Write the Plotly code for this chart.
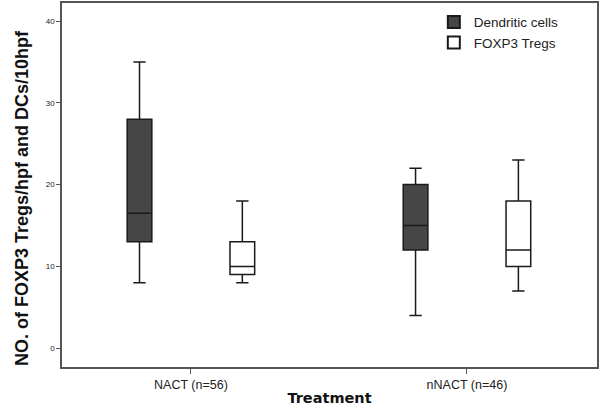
import plotly.graph_objects as go

categories = ["NACT (n=56)", "nNACT (n=46)"]
dc_low = [8, 4]
dc_q1 = [13, 12]
dc_med = [16.5, 15]
dc_q3 = [28, 20]
dc_high = [35, 22]

tr_low = [8, 7]
tr_q1 = [9, 10]
tr_med = [10, 12]
tr_q3 = [13, 18]
tr_high = [18, 23]

y_ticks = [0, 10, 20, 30, 40]
y_title = "NO. of FOXP3 Tregs/hpf and DCs/10hpf"
x_title = "Treatment"

font_main = "Liberation Sans Narrow, Arial Narrow, Liberation Sans, Arial, sans-serif"

fig = go.Figure()
fig.add_trace(go.Box(
    name="Dendritic cells", x=categories,
    q1=dc_q1, median=dc_med, q3=dc_q3, lowerfence=dc_low, upperfence=dc_high,
    fillcolor="#464646", line=dict(color="#1a1a1a", width=1.5),
    whiskerwidth=0.5, boxpoints=False, hoverinfo="skip",
))
fig.add_trace(go.Box(
    name="FOXP3 Tregs", x=categories,
    q1=tr_q1, median=tr_med, q3=tr_q3, lowerfence=tr_low, upperfence=tr_high,
    fillcolor="white", line=dict(color="#1a1a1a", width=1.5),
    whiskerwidth=0.5, boxpoints=False, hoverinfo="skip",
))

fig.update_layout(
    width=600, height=412,
    margin=dict(l=62, r=3, t=3, b=45, autoexpand=False),
    paper_bgcolor="white", plot_bgcolor="white",
    boxmode="group", boxgap=0.255, boxgroupgap=0.76,
    showlegend=True,
    legend=dict(x=0.695, y=0.99, xanchor="left", yanchor="top",
                font=dict(family="Liberation Sans, Arial, sans-serif", size=13.5, color="#222"),
                bgcolor="rgba(0,0,0,0)", tracegroupgap=0, itemsizing="constant",
                itemwidth=30),
    font=dict(family="Liberation Sans, Arial, sans-serif", color="#222"),
    annotations=[dict(
        text="<b>" + y_title + "</b>", textangle=-90,
        xref="paper", yref="paper", x=-0.0748, y=0.464,
        xanchor="center", yanchor="middle", showarrow=False,
        font=dict(family=font_main, size=18, color="#111"),
    )],
)
fig.update_xaxes(
    automargin=False,
    range=[-0.467, 1.471], showline=True, linecolor="#555", linewidth=1.5, mirror=True,
    ticks="outside", ticklen=5, tickcolor="#555", showgrid=False, zeroline=False,
    tickfont=dict(size=12.5, color="#222"),
    title=dict(text="<b>" + x_title + "</b>", font=dict(family="DejaVu Sans, sans-serif", size=14.5, color="#111"), standoff=2),
)
fig.update_yaxes(
    automargin=False,
    range=[-2.3, 42.2], tickvals=y_ticks, showline=True, linecolor="#555", linewidth=1.5, mirror=True,
    ticks="outside", ticklen=4, tickcolor="#555", showgrid=False, zeroline=False,
    tickfont=dict(size=8, color="#222"),
)

fig.write_html("out.html", config={"displayModeBar": False},
               post_script="document.body.style.margin='0px';")
